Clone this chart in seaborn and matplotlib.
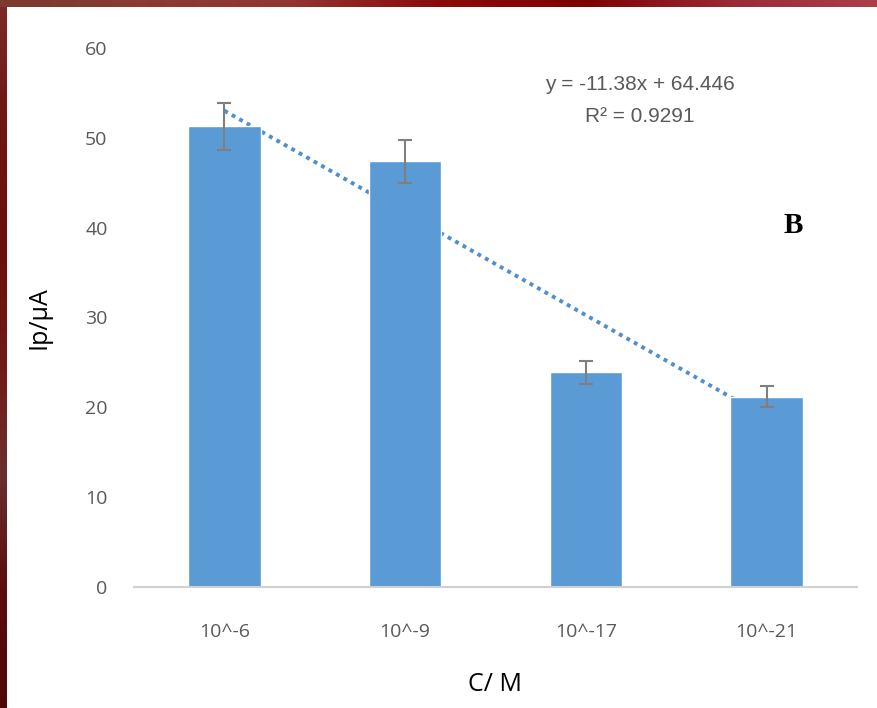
import numpy as np
import pandas as pd
import matplotlib
matplotlib.use("Agg")
import matplotlib.pyplot as plt
import seaborn as sns
from matplotlib.colors import LinearSegmentedColormap

categories = ["10^-6", "10^-9", "10^-17", "10^-21"]
values = [51.3, 47.4, 23.9, 21.2]
errors = [2.6, 2.4, 1.3, 1.2]
yticks = [0, 10, 20, 30, 40, 50, 60]
eq_text = "y = -11.38x + 64.446"
r2_text = "R² = 0.9291"

sns.set_theme(style="white")
plt.rcParams['font.family'] = ['Open Sans', 'DejaVu Sans']

W, H = 878, 708
fig = plt.figure(figsize=(W / 100, H / 100), dpi=100)
fig.patch.set_facecolor("white")

# decorative slide border (top and left bands)
top_cmap = LinearSegmentedColormap.from_list(
    "top", ["#7b3b30", "#8a3a32", "#933530", "#8a0a0a", "#7f0000", "#9a2a35", "#ad3d48"])
left_cmap = LinearSegmentedColormap.from_list(
    "left", ["#7a2a26", "#6e1612", "#6a0f0c", "#701815", "#6b3030", "#5a0c0c", "#4f0808"])
axt = fig.add_axes([0, 1 - 7 / H, 1, 7 / H])
axt.imshow(np.linspace(0, 1, 256)[None, :], aspect="auto", cmap=top_cmap)
axt.axis("off")
axl = fig.add_axes([0, 0, 7 / W, 1 - 7 / H])
axl.imshow(np.linspace(0, 1, 256)[:, None], aspect="auto", cmap=left_cmap)
axl.axis("off")

ax = fig.add_axes([134 / W, 1 - 587 / H, (857 - 134) / W, (587 - 48) / H])
df = pd.DataFrame({"C": categories, "Ip": values})
sns.barplot(data=df, x="C", y="Ip", color="#5b9bd5", width=0.4, errorbar=None,
            saturation=1, ax=ax, zorder=2)
xpos = np.arange(len(categories))
ax.errorbar(xpos, values, yerr=errors, fmt="none", ecolor="#7f7f7f",
            elinewidth=1.5, capsize=5, capthick=1.5, zorder=3)

# linear trendline fitted on bar values (drawn behind the bars)
coef = np.polyfit(xpos + 1, values, 1)
ax.plot(xpos, np.polyval(coef, xpos + 1), linestyle=(0, (1, 1.2)),
        color="#4f8fcb", linewidth=2.8, zorder=1)

ax.set_xlim(-0.5, 3.5)
ax.set_ylim(0, 60)
ax.set_yticks(yticks)
ax.set_yticklabels([str(t) for t in yticks])
for s in ["top", "right", "left"]:
    ax.spines[s].set_visible(False)
ax.spines["bottom"].set_color("#d0d0d0")
ax.spines["bottom"].set_linewidth(1.5)
ax.spines["bottom"].set_zorder(2.5)
ax.tick_params(axis="y", length=0, pad=19, labelsize=14, labelcolor="#595959")
ax.tick_params(axis="x", length=0, pad=26, labelsize=14, labelcolor="#595959")
ax.set_xlabel("C/ M", fontsize=18, color="black", labelpad=22)
ax.set_ylabel("Ip/µA", fontsize=18, color="black", labelpad=24)
ax.set_facecolor("white")

fig.text(640 / W, 1 - 85 / H, eq_text, ha="center", va="center", fontsize=15,
         color="#595959", family=["Liberation Sans", "DejaVu Sans"])
fig.text(640 / W, 1 - 117 / H, r2_text, ha="center", va="center", fontsize=15,
         color="#595959", family=["Liberation Sans", "DejaVu Sans"])
fig.text(793 / W, 1 - 225 / H, "B", ha="center", va="center", fontsize=21,
         color="black", fontweight="bold", family=["Liberation Serif", "DejaVu Serif"])

fig.savefig("out.png", dpi=100)
